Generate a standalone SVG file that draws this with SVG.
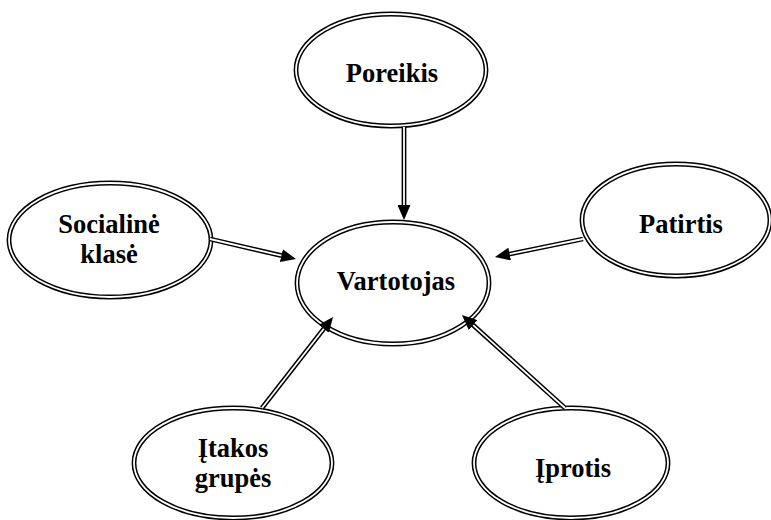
<svg xmlns="http://www.w3.org/2000/svg" width="771" height="520" viewBox="0 0 771 520">
  <style>
    .ring-out { fill: #ffffff; stroke: #000000; stroke-width: 4.8; }
    .ring-in { fill: none; stroke: #ffffff; stroke-width: 1.8; }
    .label { font-family: "Liberation Serif", "Times New Roman", serif; font-weight: bold; font-size: 26.5px; fill: #000000; text-anchor: middle; }
    .rail-out { fill: none; stroke: #000000; stroke-width: 4.8; }
    .rail-in { fill: none; stroke: #ffffff; stroke-width: 1.8; marker-end: url(#head); }
  </style>
  <defs>
    <marker id="head" viewBox="0 0 15 13" refX="7" refY="6.5" markerWidth="15" markerHeight="13" markerUnits="userSpaceOnUse" orient="auto">
      <path d="M0,0 L15,6.5 L0,13 z" fill="#000000"/>
    </marker>
  </defs>
  <rect width="771" height="520" fill="#ffffff"/>

  <g id="node-poreikis">
    <ellipse class="ring-out" cx="391" cy="70" rx="95" ry="56"/>
    <ellipse class="ring-in" cx="391" cy="70" rx="95" ry="56"/>
    <text class="label" x="392" y="82">Poreikis</text>
  </g>
  <g id="node-vartotojas">
    <ellipse class="ring-out" cx="393" cy="283" rx="96" ry="61"/>
    <ellipse class="ring-in" cx="393" cy="283" rx="96" ry="61"/>
    <text class="label" x="396" y="290">Vartotojas</text>
  </g>
  <g id="node-socialine-klase">
    <ellipse class="ring-out" cx="110" cy="240" rx="101" ry="57"/>
    <ellipse class="ring-in" cx="110" cy="240" rx="101" ry="57"/>
    <text class="label" x="109" y="233">Socialinė</text>
    <text class="label" x="109" y="263">klasė</text>
  </g>
  <g id="node-patirtis">
    <ellipse class="ring-out" cx="676" cy="220" rx="94" ry="56"/>
    <ellipse class="ring-in" cx="676" cy="220" rx="94" ry="56"/>
    <text class="label" x="681" y="233">Patirtis</text>
  </g>
  <g id="node-itakos-grupes">
    <ellipse class="ring-out" cx="233" cy="463" rx="99" ry="55"/>
    <ellipse class="ring-in" cx="233" cy="463" rx="99" ry="55"/>
    <text class="label" x="233" y="457">Įtakos</text>
    <text class="label" x="233" y="487">grupės</text>
  </g>
  <g id="node-iprotis">
    <ellipse class="ring-out" cx="571" cy="463" rx="97" ry="55"/>
    <ellipse class="ring-in" cx="571" cy="463" rx="97" ry="55"/>
    <text class="label" x="573" y="477">Įprotis</text>
  </g>

  <g id="connectors">
    <path class="rail-out" d="M404,127 L404,212"/>
    <path class="rail-in" d="M404,127 L404,212"/>
    <path class="rail-out" d="M210,239 L288.2,257.2"/>
    <path class="rail-in" d="M210,239 L288.2,257.2"/>
    <path class="rail-out" d="M583,239 L502.8,255.4"/>
    <path class="rail-in" d="M583,239 L502.8,255.4"/>
    <path class="rail-out" d="M262,408 L328.1,323.3"/>
    <path class="rail-in" d="M262,408 L328.1,323.3"/>
    <path class="rail-out" d="M565,408 L467.9,320.4"/>
    <path class="rail-in" d="M565,408 L467.9,320.4"/>
  </g>
</svg>
